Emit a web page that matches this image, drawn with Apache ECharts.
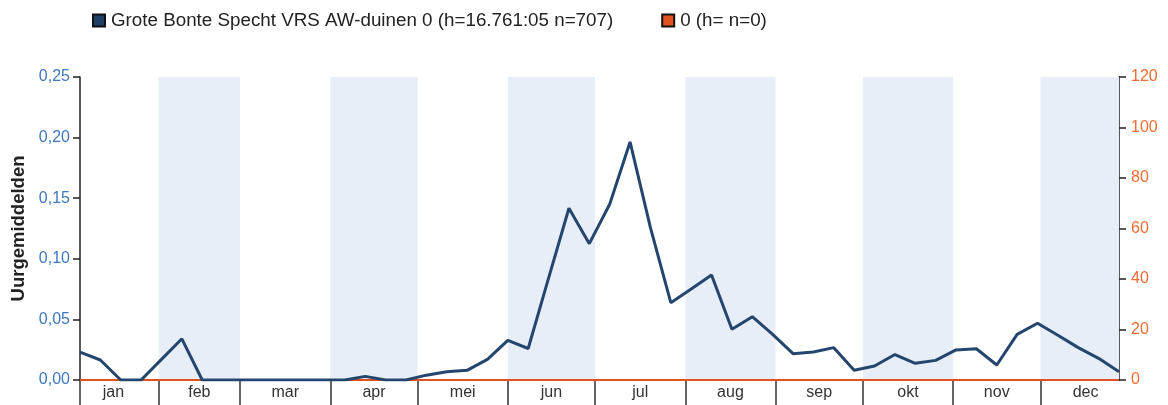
<!DOCTYPE html>
<html>
<head>
<meta charset="utf-8">
<style>
    html, body { margin: 0; padding: 0; background: #fff; }
    #main { width: 1168px; height: 405px; }
</style>
</head>
<body>
<div id="main"></div>
<script src="https://cdn.jsdelivr.net/npm/echarts@6/dist/echarts.min.js"></script>
<script type="text/javascript">
    // weeknummers en uurgemiddelden per week
    var weeks = [1, 2, 3, 4, 5, 6, 7, 8, 9, 10, 11, 12, 13, 14, 15, 16, 17, 18, 19, 20,
        21, 22, 23, 24, 25, 26, 27, 28, 29, 30, 31, 32, 33, 34, 35, 36, 37, 38, 39, 40,
        41, 42, 43, 44, 45, 46, 47, 48, 49, 50, 51, 52];
    var specht = [0.023, 0.0165, 0, 0, 0.017, 0.034, 0, 0, 0, 0,
        0, 0, 0, 0, 0.003, 0, 0, 0.004, 0.0068, 0.008,
        0.017, 0.0327, 0.026, 0.084, 0.1417, 0.1125, 0.145, 0.1964, 0.1257, 0.0638,
        0.075, 0.0866, 0.0418, 0.0522, 0.0377, 0.0217, 0.0231, 0.0267, 0.008, 0.0116,
        0.021, 0.0138, 0.0162, 0.0248, 0.0258, 0.0124, 0.0377, 0.0468, 0.0369, 0.0267,
        0.0179, 0.0069];
    var leeg = [0, 0, 0, 0, 0, 0, 0, 0, 0, 0, 0, 0, 0, 0, 0, 0, 0, 0, 0, 0,
        0, 0, 0, 0, 0, 0, 0, 0, 0, 0, 0, 0, 0, 0, 0, 0, 0, 0, 0, 0,
        0, 0, 0, 0, 0, 0, 0, 0, 0, 0, 0, 0];

    var months = ['jan', 'feb', 'mar', 'apr', 'mei', 'jun', 'jul', 'aug', 'sep', 'okt', 'nov', 'dec'];
    var monthStart = [0, 31, 59, 90, 120, 151, 181, 212, 243, 273, 304, 334, 365];

    var serie1 = 'Grote Bonte Specht VRS AW-duinen 0 (h=16.761:05 n=707)';
    var serie2 = '0 (h= n=0)';

    var xMin = 4, xMax = 361;

    // week -> dag van het jaar (midden van de week)
    function weekDay(w) { return w * 7 - 3; }

    var data1 = [], data2 = [];
    for (var i = 0; i < weeks.length; i++) {
        data1.push([weekDay(weeks[i]), specht[i]]);
        data2.push([weekDay(weeks[i]), leeg[i]]);
    }

    var tickVals = [xMin], labelVals = [], bands = [];
    for (var m = 0; m < 12; m++) {
        if (m > 0) tickVals.push(monthStart[m]);
        labelVals.push((monthStart[m] + monthStart[m + 1]) / 2);
        if (m % 2 === 1) {
            bands.push([{xAxis: monthStart[m]}, {xAxis: Math.min(monthStart[m + 1], xMax)}]);
        }
    }

    var myChart = echarts.init(document.getElementById('main'));

    var option = {
        animation: false,
        textStyle: {fontFamily: 'Liberation Sans, Arial, sans-serif'},
        legend: {
            data: [serie1, serie2],
            left: 87,
            top: 6,
            itemWidth: 12,
            itemHeight: 12,
            itemGap: 48,
            icon: 'rect',
            textStyle: {fontSize: 18.8, color: '#222', padding: [0, 0, 0, 1]}
        },
        grid: {left: 80, right: 49, top: 77, bottom: 25},
        xAxis: {
            type: 'value',
            min: xMin,
            max: xMax,
            splitLine: {show: false},
            axisLine: {lineStyle: {color: '#333', width: 1}},
            axisTick: {
                show: true,
                customValues: tickVals,
                length: 26,
                lineStyle: {color: '#333', width: 1.5}
            },
            axisLabel: {
                customValues: labelVals,
                color: '#333',
                fontSize: 16,
                margin: 5,
                formatter: function (v) {
                    for (var k = 0; k < 12; k++) {
                        if (Math.abs(labelVals[k] - v) < 0.01) return months[k];
                    }
                    return '';
                }
            }
        },
        yAxis: [
            {
                type: 'value',
                min: 0,
                max: 0.25,
                interval: 0.05,
                name: 'Uurgemiddelden',
                nameLocation: 'middle',
                nameGap: 52,
                nameTextStyle: {fontSize: 18.5, fontWeight: 'bold', color: '#222'},
                splitLine: {show: false},
                axisLine: {show: true, lineStyle: {color: '#222', width: 1.5}},
                axisTick: {show: true, length: 7, lineStyle: {color: '#222', width: 1.5}},
                axisLabel: {
                    color: '#3f78bf',
                    fontSize: 16,
                    margin: 10,
                    formatter: function (v) { return v.toFixed(2).replace('.', ','); }
                }
            },
            {
                type: 'value',
                min: 0,
                max: 120,
                interval: 20,
                position: 'right',
                splitLine: {show: false},
                axisLine: {show: true, lineStyle: {color: '#222', width: 1.5}},
                axisTick: {show: true, length: 7, lineStyle: {color: '#222', width: 1.5}},
                axisLabel: {color: '#ef6d35', fontSize: 16, margin: 12}
            }
        ],
        series: [
            {
                name: serie1,
                type: 'line',
                yAxisIndex: 0,
                data: data1,
                symbol: 'none',
                z: 5,
                itemStyle: {color: '#1f3f66', borderColor: '#111', borderWidth: 1},
                lineStyle: {color: '#24466e', width: 3}
            },
            {
                name: serie2,
                type: 'line',
                yAxisIndex: 1,
                data: data2,
                symbol: 'none',
                z: 3,
                itemStyle: {color: '#e0521f', borderColor: '#111', borderWidth: 1},
                lineStyle: {color: '#e0521f', width: 2},
                markArea: {
                    silent: true,
                    itemStyle: {color: '#e8eef8'},
                    data: bands
                }
            }
        ]
    };

    myChart.setOption(option);
</script>
</body>
</html>
